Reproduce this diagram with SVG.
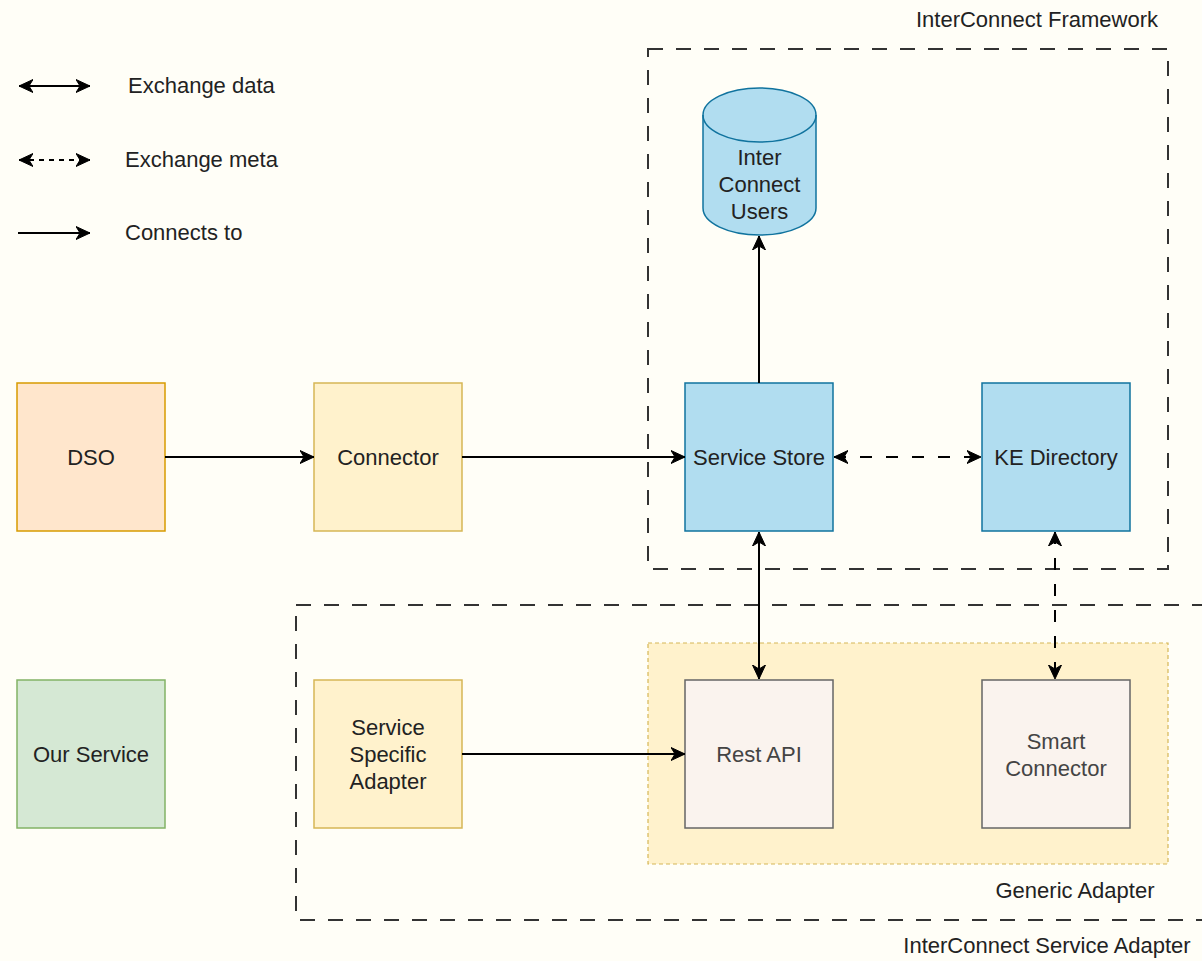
<svg xmlns="http://www.w3.org/2000/svg" width="1202" height="961" viewBox="0 0 1202 961">
<defs>
<style>
text{font-family:"Liberation Sans",Arial,sans-serif;font-size:22px;fill:#222;text-anchor:middle}
.gray{fill:#444}
.cont{fill:none;stroke:#333;stroke-width:2;stroke-dasharray:15 13}
.line{fill:none;stroke:#000;stroke-width:2}
.dash{stroke-dasharray:12 14}
.orange{fill:#ffe6cc;stroke:#d79b00;stroke-width:1.5}
.yellow{fill:#fff2cc;stroke:#d6b656;stroke-width:1.5}
.blue{fill:#b1ddf0;stroke:#10739e;stroke-width:1.5}
.green{fill:#d5e8d4;stroke:#82b366;stroke-width:1.5}
.light{fill:#faf3ee;stroke:#666;stroke-width:1.5}
</style>
<marker id="arr" markerUnits="userSpaceOnUse" markerWidth="16" markerHeight="16" viewBox="0 0 16 16" refX="14" refY="8" orient="auto-start-reverse">
<path d="M0,1.5 L14,8 L0,14.5 L4,8 Z" fill="#000" stroke="#000" stroke-width="1" stroke-linejoin="miter"/>
</marker>
</defs>
<rect width="1202" height="961" fill="#fffef7"/>

<g id="legend">
<line class="line" x1="19" y1="86" x2="90" y2="86" marker-start="url(#arr)" marker-end="url(#arr)"/>
<text x="128" y="93" style="text-anchor:start">Exchange data</text>
<line class="line" x1="19" y1="160" x2="90" y2="160" stroke-dasharray="5 5" marker-start="url(#arr)" marker-end="url(#arr)"/>
<text x="125" y="167" style="text-anchor:start">Exchange meta</text>
<line class="line" x1="18" y1="233" x2="90" y2="233" marker-end="url(#arr)"/>
<text x="125" y="240" style="text-anchor:start">Connects to</text>
</g>

<g id="interconnect-framework">
<rect class="cont" x="648" y="49" width="520" height="520"/>
<text x="1037" y="27">InterConnect Framework</text>
</g>

<g id="interconnect-service-adapter">
<rect class="cont" x="296" y="605" width="930" height="315"/>
<text x="1047" y="953">InterConnect Service Adapter</text>
</g>

<g id="generic-adapter">
<rect x="648" y="643" width="520" height="221" fill="#fff2cc" stroke="#d6b656" stroke-width="1.2" stroke-dasharray="4 3"/>
<text x="1075" y="898">Generic Adapter</text>
</g>

<g id="interconnect-users">
<path class="blue" d="M703,115 A56.5,27 0 0 1 816,115 L816,208 A56.5,27 0 0 1 703,208 Z"/>
<path d="M703,115 A56.5,27 0 0 0 816,115" fill="none" stroke="#10739e" stroke-width="1.5"/>
<text x="759.5" y="165">Inter</text>
<text x="759.5" y="192">Connect</text>
<text x="759.5" y="219">Users</text>
</g>

<g id="dso">
<rect class="orange" x="17" y="383" width="148" height="148"/>
<text x="91" y="465">DSO</text>
</g>

<g id="connector">
<rect class="yellow" x="314" y="383" width="148" height="148"/>
<text x="388" y="465">Connector</text>
</g>

<g id="service-store">
<rect class="blue" x="685" y="383" width="148" height="148"/>
<text x="759" y="465">Service Store</text>
</g>

<g id="ke-directory">
<rect class="blue" x="982" y="383" width="148" height="148"/>
<text x="1056" y="465">KE Directory</text>
</g>

<g id="our-service">
<rect class="green" x="17" y="680" width="148" height="148"/>
<text x="91" y="762">Our Service</text>
</g>

<g id="service-specific-adapter">
<rect class="yellow" x="314" y="680" width="148" height="148"/>
<text x="388" y="735">Service</text>
<text x="388" y="762">Specific</text>
<text x="388" y="789">Adapter</text>
</g>

<g id="rest-api">
<rect class="light" x="685" y="680" width="148" height="148"/>
<text class="gray" x="759" y="762">Rest API</text>
</g>

<g id="smart-connector">
<rect class="light" x="982" y="680" width="148" height="148"/>
<text class="gray" x="1056" y="749">Smart</text>
<text class="gray" x="1056" y="776">Connector</text>
</g>

<g id="connectors">
<line class="line" x1="165" y1="457" x2="314" y2="457" marker-end="url(#arr)"/>
<line class="line" x1="462" y1="457" x2="685" y2="457" marker-end="url(#arr)"/>
<line class="line" x1="759" y1="383" x2="759" y2="236" marker-end="url(#arr)"/>
<line class="line dash" x1="834" y1="457" x2="981" y2="457" marker-start="url(#arr)" marker-end="url(#arr)"/>
<line class="line" x1="759" y1="532" x2="759" y2="679" marker-start="url(#arr)" marker-end="url(#arr)"/>
<line class="line dash" x1="1055" y1="532" x2="1055" y2="679" marker-start="url(#arr)" marker-end="url(#arr)"/>
<line class="line" x1="462" y1="754" x2="685" y2="754" marker-end="url(#arr)"/>
</g>
</svg>
